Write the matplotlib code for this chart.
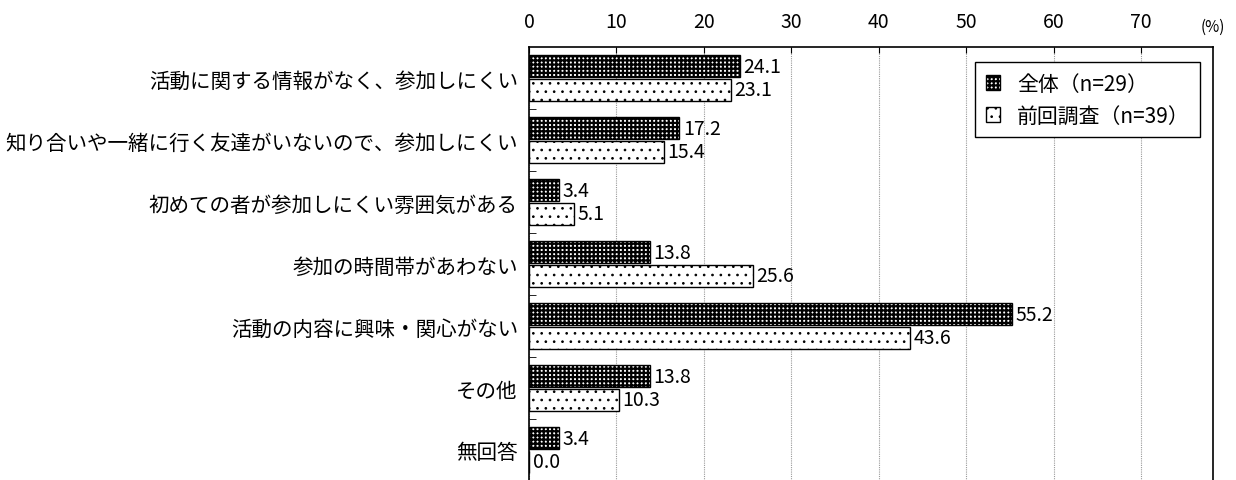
import numpy as np
import matplotlib
matplotlib.use("Agg")
import matplotlib.pyplot as plt
from matplotlib.patches import Patch

plt.rcParams['font.family'] = ['Noto Sans CJK JP', 'DejaVu Sans']

categories = [
    "活動に関する情報がなく、参加しにくい",
    "知り合いや一緒に行く友達がいないので、参加しにくい",
    "初めての者が参加しにくい雰囲気がある",
    "参加の時間帯があわない",
    "活動の内容に興味・関心がない",
    "その他",
    "無回答",
]
zentai = [24.1, 17.2, 3.4, 13.8, 55.2, 13.8, 3.4]
zenkai = [23.1, 15.4, 5.1, 25.6, 43.6, 10.3, 0.0]
label_zentai = "全体（n=29）"
label_zenkai = "前回調査（n=39）"
xticks = [0, 10, 20, 30, 40, 50, 60, 70]

fig = plt.figure(figsize=(12.36, 4.81), dpi=100)
ax = fig.add_axes([0.428, -0.002, 0.5534, 0.9022])

y = np.arange(len(categories))
h = 0.355
off = 0.19

# hatch linewidth is picked up when each patch is made
plt.rcParams['hatch.linewidth'] = 1.6
ax.barh(y - off, zentai, height=h, color="white", edgecolor="black",
        hatch="++++", linewidth=1.0, zorder=3)
plt.rcParams['hatch.linewidth'] = 0.7
ax.barh(y + off, zenkai, height=h, color="white", edgecolor="black",
        hatch="..", linewidth=1.0, zorder=3)

for yy, v in zip(y - off, zentai):
    ax.text(v + 0.4, yy, f"{v:.1f}", va="center", ha="left", fontsize=14, zorder=4)
for yy, v in zip(y + off, zenkai):
    ax.text(v + 0.4, yy, f"{v:.1f}", va="center", ha="left", fontsize=14, zorder=4)

ax.set_xlim(0, 78.2)
ax.set_ylim(len(categories) - 0.5, -0.5)

ax.set_xticks(xticks)
ax.xaxis.tick_top()
ax.tick_params(axis="x", direction="in", length=4, labelsize=14, pad=11)
ax.annotate("(%)", xy=(1.0, 1.0), xycoords="axes fraction", xytext=(0, 9),
            textcoords="offset points", ha="center", va="bottom", fontsize=11)
ax.grid(axis="x", color="#999999", linestyle=(0, (1, 1)), linewidth=0.8, zorder=0)

ax.set_yticks(y)
ax.set_yticklabels(categories, fontsize=14.8)
ax.tick_params(axis="y", length=0, pad=8)
ax.set_yticks(np.arange(len(categories)) + 0.5, minor=True)
ax.tick_params(axis="y", which="minor", direction="in", length=5)

ax.spines["bottom"].set_visible(False)
for s in ["top", "left", "right"]:
    ax.spines[s].set_linewidth(1.2)

handles = [Patch(facecolor="white", edgecolor="black", hatch="++++", label=label_zentai),
           Patch(facecolor="white", edgecolor="black", hatch="..", label=label_zenkai)]
plt.rcParams['hatch.linewidth'] = 1.6
leg = ax.legend(handles=handles, loc="upper right", bbox_to_anchor=(0.981, 0.965),
                fontsize=15, handlelength=0.7, handleheight=0.7, handletextpad=0.8,
                borderpad=0.5, labelspacing=0.5, borderaxespad=0, fancybox=False,
                framealpha=1, edgecolor="black")
leg.get_frame().set_linewidth(1.0)
lp = leg.get_patches()
if hasattr(lp[0], "set_hatch_linewidth"):
    lp[0].set_hatch_linewidth(1.6)
    lp[1].set_hatch_linewidth(0.7)

fig.savefig("out.png", dpi=100)
